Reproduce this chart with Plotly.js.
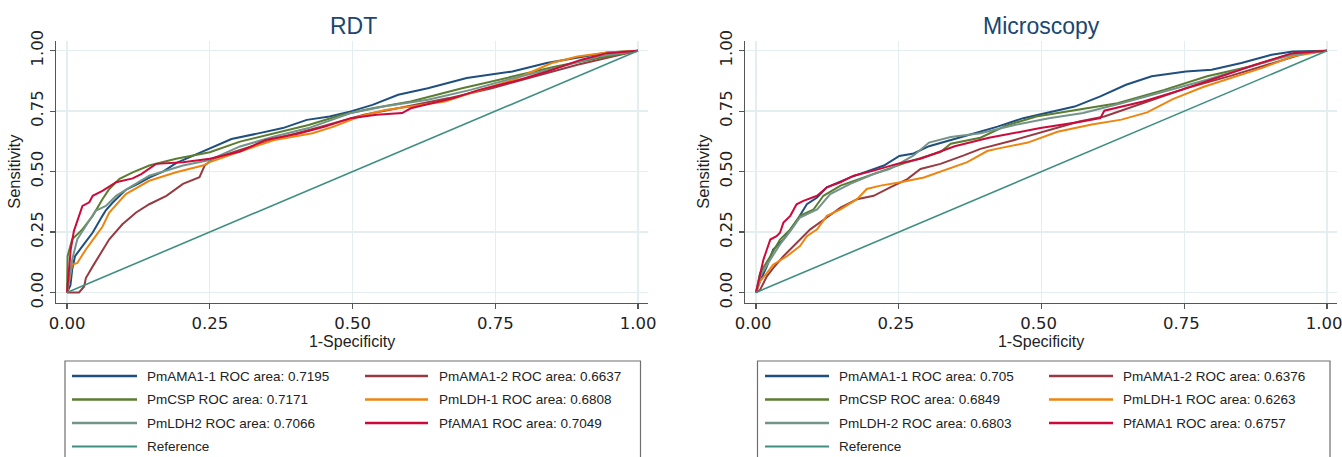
<!DOCTYPE html>
<html>
<head>
<meta charset="utf-8">
<script src="https://cdn.plot.ly/plotly-3.0.1.min.js"></script>
<style>html,body{margin:0;padding:0;background:#fff;}#chart{width:1342px;height:457px;}</style>
</head>
<body>
<div id="chart"></div>
<script>
// ---------- DATA ----------
const panelTitles = ["RDT", "Microscopy"];
const xTickVals = [0, 0.25, 0.5, 0.75, 1];
const xTickText = ["0.00", "0.25", "0.50", "0.75", "1.00"];
const yTickVals = [0, 0.25, 0.5, 0.75, 1];
const yTickText = ["0.00", "0.25", "0.50", "0.75", "1.00"];
const xTitle = "1-Specificity";
const yTitle = "Sensitivity";

const rdtNames = ["PmAMA1-1", "PmAMA1-2", "PmCSP", "PmLDH-1", "PmLDH2", "PfAMA1"];
const rdtAUC = ["0.7195", "0.6637", "0.7171", "0.6808", "0.7066", "0.7049"];
const micNames = ["PmAMA1-1", "PmAMA1-2", "PmCSP", "PmLDH-1", "PmLDH-2", "PfAMA1"];
const micAUC = ["0.705", "0.6376", "0.6849", "0.6263", "0.6803", "0.6757"];
const refName = "Reference";
const refX = [0, 1];
const refY = [0, 1];

// RDT curves (1-specificity, sensitivity)
const rdtAMA11x = [0, .006, .009, .014, .027, .045, .062, .068, .08, .103, .125, .144, .168, .191, .22, .25, .288, .333, .378, .42, .46, .497, .535, .58, .632, .7, .76, .78, .84, .894, .946, 1];
const rdtAMA11y = [0, .03, .095, .15, .192, .248, .317, .34, .372, .425, .45, .475, .5, .535, .565, .597, .635, .657, .68, .714, .728, .749, .776, .818, .845, .887, .907, .914, .949, .97, .993, 1];
const rdtAMA12x = [0, .021, .03, .033, .045, .056, .074, .097, .121, .144, .174, .203, .232, .241, .256, .303, .37, .445, .52, .595, .669, .744, .819, .894, .969, 1];
const rdtAMA12y = [0, 0, .025, .06, .108, .15, .22, .282, .331, .365, .4, .449, .477, .525, .553, .59, .638, .686, .735, .769, .804, .845, .894, .942, .983, 1];
const rdtCSPx = [0, .001, .009, .027, .045, .062, .074, .092, .115, .144, .191, .25, .303, .363, .423, .482, .535, .602, .692, .782, .856, .931, 1];
const rdtCSPy = [0, .15, .22, .261, .317, .386, .428, .47, .497, .525, .553, .58, .624, .659, .693, .735, .762, .79, .845, .894, .935, .97, 1];
const rdtLDH1x = [0, .009, .018, .033, .05, .062, .074, .103, .144, .191, .238, .25, .303, .363, .43, .467, .512, .557, .602, .662, .707, .782, .849, .894, .946, 1];
const rdtLDH1y = [0, .115, .122, .178, .233, .272, .331, .407, .462, .497, .525, .539, .583, .631, .659, .686, .728, .755, .769, .79, .825, .88, .949, .976, .993, 1];
const rdtLDH2x = [0, .009, .018, .033, .05, .068, .086, .115, .144, .203, .25, .303, .363, .423, .497, .557, .632, .707, .782, .856, .931, 1];
const rdtLDH2y = [0, .136, .22, .275, .338, .358, .4, .442, .483, .525, .548, .604, .645, .68, .742, .77, .797, .838, .887, .928, .977, 1];
const rdtPfx = [0, .004, .0065, .012, .021, .027, .039, .045, .062, .086, .115, .13, .156, .203, .25, .303, .348, .408, .452, .497, .542, .587, .602, .662, .677, .722, .782, .841, .901, .946, 1];
const rdtPfy = [0, .1, .178, .254, .317, .358, .373, .4, .42, .456, .472, .49, .532, .539, .553, .583, .631, .659, .686, .721, .735, .742, .762, .797, .804, .838, .873, .914, .963, .99, 1];

// Microscopy curves
const micAMA11x = [0, .007, .019, .03, .048, .06, .071, .089, .107, .124, .165, .224, .251, .276, .303, .363, .423, .468, .506, .558, .603, .648, .693, .753, .798, .85, .903, .94, 1];
const micAMA11y = [0, .046, .108, .178, .219, .261, .296, .365, .393, .435, .476, .525, .565, .575, .605, .645, .686, .721, .742, .769, .811, .859, .894, .914, .921, .949, .983, .997, 1];
const micAMA12x = [0, .007, .019, .03, .048, .071, .095, .124, .148, .177, .206, .235, .265, .288, .323, .364, .393, .453, .513, .566, .61, .678, .753, .828, .903, .963, 1];
const micAMA12y = [0, .011, .067, .101, .15, .206, .261, .31, .351, .386, .4, .435, .469, .511, .532, .567, .594, .631, .673, .707, .728, .783, .845, .894, .949, .99, 1];
const micCSPx = [0, .007, .025, .042, .06, .077, .101, .118, .148, .206, .265, .323, .341, .393, .438, .491, .558, .633, .715, .79, .865, .94, 1];
const micCSPy = [0, .08, .15, .219, .261, .317, .344, .4, .442, .49, .539, .581, .615, .64, .69, .728, .755, .783, .838, .894, .935, .99, 1];
const micLDH1x = [0, .007, .019, .03, .054, .077, .089, .107, .124, .148, .177, .194, .218, .253, .294, .335, .37, .405, .423, .476, .528, .588, .64, .685, .73, .783, .828, .888, .94, 1];
const micLDH1y = [0, .046, .08, .115, .15, .192, .233, .261, .317, .344, .386, .428, .442, .456, .476, .511, .539, .585, .595, .62, .665, .695, .715, .745, .8, .85, .885, .93, .977, 1];
const micLDH2x = [0, .007, .025, .042, .06, .077, .107, .13, .165, .206, .235, .276, .303, .341, .393, .453, .513, .573, .64, .715, .79, .865, .94, 1];
const micLDH2y = [0, .067, .136, .199, .254, .31, .344, .407, .449, .49, .511, .567, .62, .643, .659, .693, .721, .742, .783, .831, .88, .935, .983, 1];
const micPfx = [0, .007, .013, .019, .025, .036, .042, .048, .06, .071, .083, .107, .124, .148, .171, .206, .247, .288, .348, .408, .453, .498, .566, .603, .61, .678, .745, .813, .865, .903, .94, 1];
const micPfy = [0, .067, .136, .178, .219, .233, .247, .289, .317, .365, .379, .4, .435, .456, .483, .504, .532, .553, .605, .64, .66, .68, .705, .721, .752, .79, .838, .894, .935, .963, .99, 1];

const seriesColors = ["#1f4f7e", "#963b42", "#5a7d32", "#ec8610", "#739489", "#cc0a3c"];
const refColor = "#3f8f80";

// ---------- BUILD ----------
const rdtCurves = [[rdtAMA11x, rdtAMA11y], [rdtAMA12x, rdtAMA12y], [rdtCSPx, rdtCSPy], [rdtLDH1x, rdtLDH1y], [rdtLDH2x, rdtLDH2y], [rdtPfx, rdtPfy]];
const micCurves = [[micAMA11x, micAMA11y], [micAMA12x, micAMA12y], [micCSPx, micCSPy], [micLDH1x, micLDH1y], [micLDH2x, micLDH2y], [micPfx, micPfy]];

const W = 1342, H = 457;
const px = v => v / W;
const py = v => 1 - v / H;
const FONT = "Liberation Sans, Arial, Helvetica, sans-serif";
const TICKFONT = "DejaVu Sans, Liberation Sans, Arial, sans-serif";

const traces = [];
function addPanel(curves, names, aucs, xa, ya) {
  curves.forEach((c, i) => {
    traces.push({
      x: c[0], y: c[1], type: "scatter", mode: "lines",
      name: names[i] + " ROC area: " + aucs[i],
      xaxis: xa, yaxis: ya, showlegend: false,
      line: {color: seriesColors[i], width: 2}
    });
  });
  traces.push({
    x: refX, y: refY, type: "scatter", mode: "lines", name: refName,
    xaxis: xa, yaxis: ya, showlegend: false,
    line: {color: refColor, width: 1.6}
  });
}
addPanel(rdtCurves, rdtNames, rdtAUC, "x", "y");
addPanel(micCurves, micNames, micAUC, "x2", "y2");

function xAxis(domain, anchor, shift) {
  return {
    domain: domain, anchor: anchor, range: [-0.0193, 1.0175],
    tickvals: xTickVals, ticktext: xTickText, ticklabeloverflow: "allow", ticklabelshift: shift,
    ticks: "outside", ticklen: 5, tickwidth: 1.2, tickcolor: "#555",
    showline: true, linecolor: "#555", linewidth: 1.3, mirror: false,
    showgrid: true, gridcolor: "#e4eef0", gridwidth: 1.4, zeroline: false,
    tickfont: {family: TICKFONT, size: 16.5, color: "#222"},
    title: {text: xTitle, font: {family: FONT, size: 16, color: "#222"}, standoff: 2},
    automargin: false, fixedrange: true
  };
}
function yAxis(anchor) {
  return {
    domain: [1 - 302.7 / H, 1 - 40.7 / H], anchor: anchor, range: [-0.0422, 1.0414],
    tickvals: yTickVals, ticktext: yTickText, tickangle: -90, ticklabeloverflow: "allow",
    ticks: "outside", ticklen: 5, tickwidth: 1.2, tickcolor: "#555",
    showline: true, linecolor: "#555", linewidth: 1.3, mirror: false,
    showgrid: true, gridcolor: "#e4eef0", gridwidth: 1.4, zeroline: false,
    tickfont: {family: TICKFONT, size: 16.5, color: "#222"},
    title: {text: yTitle, font: {family: FONT, size: 16.5, color: "#222"}, standoff: 3},
    automargin: false, fixedrange: true
  };
}

const shapes = [];
const annotations = [];

// panel titles
[[353, panelTitles[0]], [1041, panelTitles[1]]].forEach(t => {
  annotations.push({
    xref: "paper", yref: "paper", x: px(t[0]), y: py(26), xanchor: "center", yanchor: "middle",
    text: t[1], showarrow: false, font: {family: FONT, size: 23, color: "#1a476f"}
  });
});

// legends (drawn manually, two columns like the original)
function addLegend(names, aucs, boxL, boxR, c1Line, c1Text, c2Line, c2Text) {
  shapes.push({type: "rect", xref: "paper", yref: "paper",
    x0: px(boxL), x1: px(boxR), y0: py(470), y1: py(361),
    line: {color: "#6f6f6f", width: 1.2}, fillcolor: "rgba(0,0,0,0)"});
  const rows = [376, 399.5, 423, 446.5];
  const labels = names.map((n, i) => n + " ROC area: " + aucs[i]);
  const items = labels.map((l, i) => ({label: l, color: seriesColors[i], width: 2}));
  items.push({label: refName, color: refColor, width: 1.6});
  items.forEach((it, i) => {
    const col = (i === items.length - 1) ? 0 : i % 2;
    const row = (i === items.length - 1) ? 3 : Math.floor(i / 2);
    const ln = col === 0 ? c1Line : c2Line;
    const tx = col === 0 ? c1Text : c2Text;
    shapes.push({type: "line", xref: "paper", yref: "paper",
      x0: px(ln[0]), x1: px(ln[1]), y0: py(rows[row]), y1: py(rows[row]),
      line: {color: it.color, width: it.width + 0.4}});
    annotations.push({xref: "paper", yref: "paper", x: px(tx), y: py(rows[row]),
      xanchor: "left", yanchor: "middle", text: it.label, showarrow: false,
      font: {family: FONT, size: 13.5, color: "#222"}});
  });
}
addLegend(rdtNames, rdtAUC, 65, 640.5, [72, 137], 145, [365, 428], 437);
addLegend(micNames, micAUC, 757.5, 1330, [765, 829], 837, [1049, 1113], 1121);

const layout = {
  width: W, height: H,
  margin: {l: 0, r: 0, t: 0, b: 0, pad: 0},
  paper_bgcolor: "#ffffff", plot_bgcolor: "#ffffff",
  showlegend: false,
  xaxis: xAxis([56 / W, 648 / W], "y", 0),
  yaxis: yAxis("x"),
  xaxis2: xAxis([745 / W, 1337 / W], "y2", -3),
  yaxis2: yAxis("x2"),
  shapes: shapes,
  annotations: annotations,
  font: {family: FONT}
};

Plotly.newPlot("chart", traces, layout, {displayModeBar: false, staticPlot: true});
</script>
</body>
</html>
